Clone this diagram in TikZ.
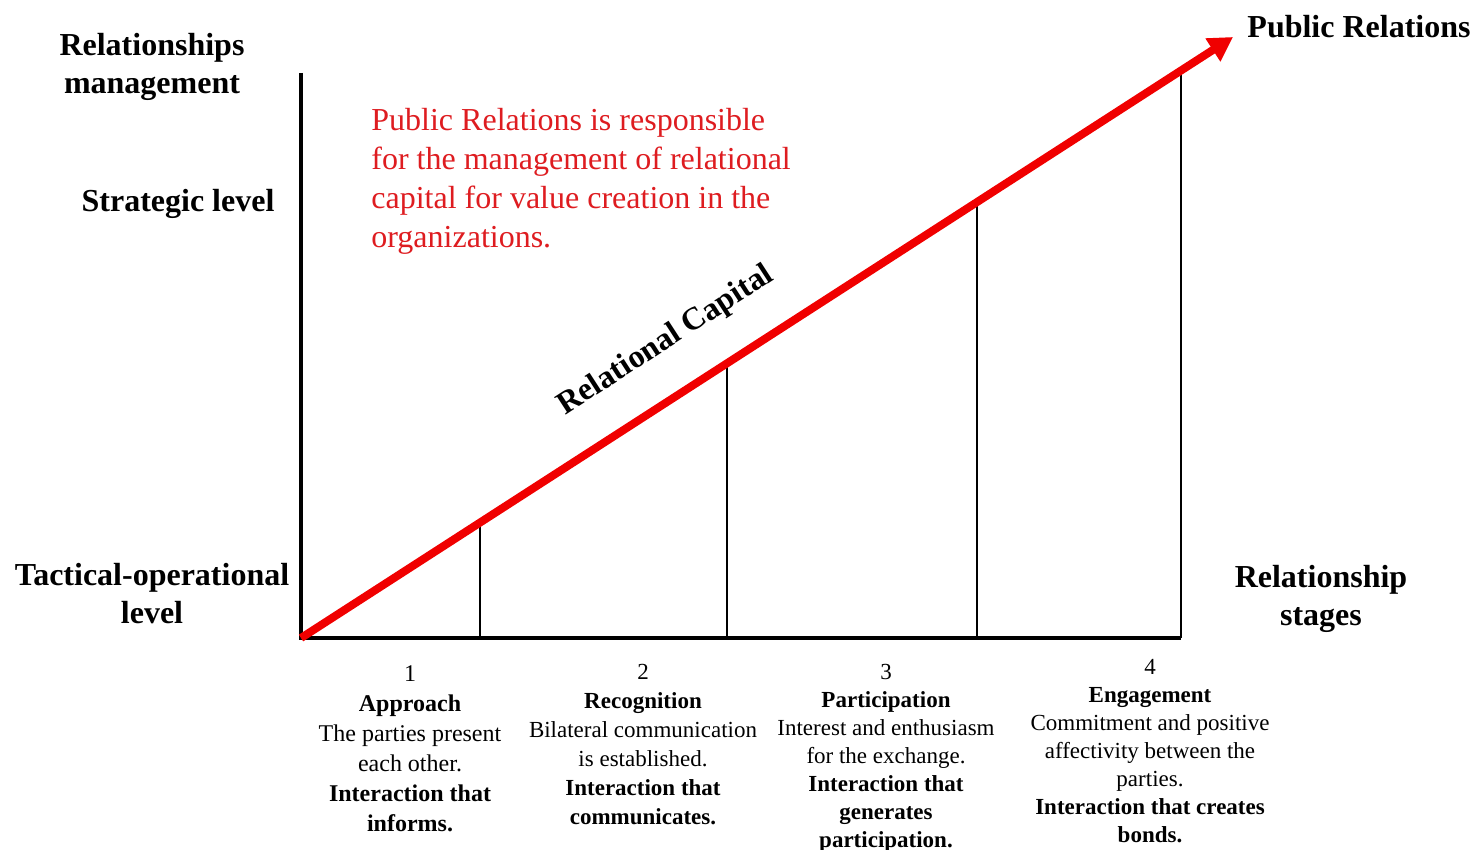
\documentclass[tikz,border=0pt]{standalone}
\usepackage{fontspec}
\setmainfont{Liberation Serif}
\usepackage{tikz}
\usetikzlibrary{calc}
\usetikzlibrary{positioning,arrows.meta}
\definecolor{prred}{RGB}{240,0,0}
\definecolor{notered}{RGB}{222,28,32}

\begin{document}
\begin{tikzpicture}[x=0.5pt,y=-0.5pt,
	axis/.style={line width=2pt},
	stage line/.style={line width=1pt},
	capital/.style={draw=prred,line width=4pt,-{Triangle[length=12pt,width=13pt]}},
	head label/.style={font=\fontsize{16}{19}\selectfont\bfseries,align=center,inner sep=0pt},
	stage text/.style={font=\fontsize{11.5}{14}\selectfont,align=center,inner sep=0pt,anchor=north}]
	
	\useasboundingbox (0,0) rectangle (1481,850);
	
	\coordinate (o) at (301,638);
	\coordinate (ytop) at (301,73);
	\coordinate (xend) at (1181,638);
	\coordinate (tip) at (1233,37);
	\coordinate (s1) at (480,522.6);
	\coordinate (s2) at (727,363.2);
	\coordinate (s3) at (977,202);
	\coordinate (s4) at (1181,70.4);
	
	\draw[axis] (ytop) -- (o) -- (xend);
	\path[stage line]
	(s1) edge (s1 |- o)
	(s2) edge (s2 |- o)
	(s3) edge (s3 |- o)
	(s4) edge (s4 |- o);
	\draw[capital] (o) -- (tip);
	
	\node[head label] (mgmt) at (152,67) {Relationships\\management};
	\node[head label] (strategic) at (178,204) {Strategic level};
	\node[head label] (tactical) at (152,594) {Tactical-operational\\level};
	\node[head label] (stages) at (1321,599) {Relationship\\stages};
	\node[head label] (pr) at (1359,27) {Public Relations};
	\node[head label,rotate=33] (rc) at (666,341) {Relational Capital};
	
	\node[anchor=north west,inner sep=0pt,align=left,text=notered,font=\fontsize{16}{19.5}\selectfont] (note) at (371,108)
	{Public Relations is responsible\\for the management of relational\\capital for value creation in the\\organizations.};
	
	\node[stage text,font=\fontsize{12}{15}\selectfont] (approach) at (410,665)
	{1\\\textbf{Approach}\\The parties present\\each other.\\\textbf{Interaction that}\\\textbf{informs.}};
	\node[stage text,font=\fontsize{11.5}{14.5}\selectfont] (recognition) at (643,664)
	{2\\\textbf{Recognition}\\Bilateral communication\\is established.\\\textbf{Interaction that}\\\textbf{communicates.}};
	\node[stage text] (participation) at (886,664)
	{3\\\textbf{Participation}\\Interest and enthusiasm\\for the exchange.\\\textbf{Interaction that}\\\textbf{generates}\\\textbf{participation.}};
	\node[stage text] (engagement) at (1150,659)
	{4\\\textbf{Engagement}\\Commitment and positive\\affectivity between the\\parties.\\\textbf{Interaction that creates}\\\textbf{bonds.}};
	
\end{tikzpicture}
\end{document}
